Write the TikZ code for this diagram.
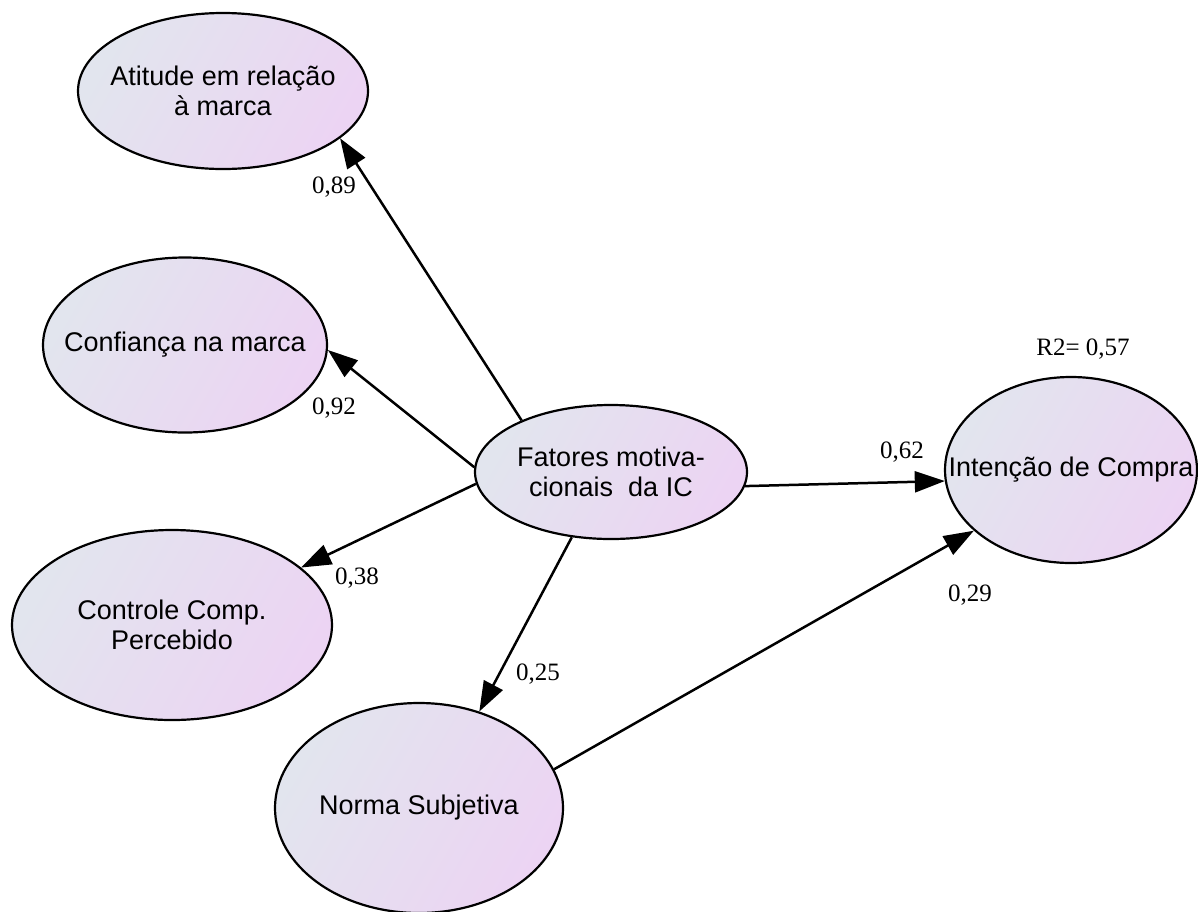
\documentclass[tikz,border=0pt]{standalone}
\usepackage{fontspec}
\setmainfont{Liberation Serif}
\newfontfamily\arialf{Liberation Sans}
\usetikzlibrary{shapes.geometric,arrows.meta}
\definecolor{gleft}{RGB}{226,229,238}
\definecolor{gright}{RGB}{236,212,243}
\tikzset{
  lat/.style={ellipse, draw=black, line width=2.2pt, inner sep=0pt,
    left color=gleft, right color=gright, shading angle=60},
  lattext/.style={font=\arialf\fontsize{27}{30}\selectfont, align=center, inner sep=0pt},
  path/.style={draw=black, line width=2.5pt, -{Triangle[length=30pt,width=21pt]}},
  coef/.style={font=\fontsize{25}{28}\selectfont, inner sep=0pt}
}
\begin{document}
\begin{tikzpicture}[x=1pt,y=-1pt]
\useasboundingbox (0,0) rectangle (1198,911);
\node[lat, minimum width=290, minimum height=156, label={[lattext]center:Atitude em relação\\à marca}] (att) at (223,91) {};
\node[lat, minimum width=284, minimum height=175, label={[lattext]center:Confiança na marca}] (con) at (185,345) {};
\node[lat, minimum width=320, minimum height=190, label={[lattext]center:Controle Comp.\\Percebido}] (ctl) at (172,625) {};
\node[lat, minimum width=288, minimum height=210, label={[lattext]center:Norma Subjetiva}] (nor) at (419,808) {};
\node[lat, minimum width=272, minimum height=134, label={[lattext]center:Fatores motiva-\\cionais\ \ da IC}] (fat) at (611,472) {};
\node[lat, minimum width=252, minimum height=186, label={[lattext]center:Intenção de Compra}] (int) at (1071,470) {};

\draw[path] (fat.150.6) -- (att.-22.2);
\draw[path] (fat.178) -- (con.-2.2);
\draw[path] (fat.-175) -- (ctl.24.3);
\draw[path] (fat.-121.1) -- (nor.58.9);
\draw[path] (fat.-6.4) -- (int.-175.4);
\draw[path] (nor.16.4) -- (int.-148.5);

\node[coef] (l1) at (334,187) {0,89};
\node[coef] (l2) at (334,408) {0,92};
\node[coef] (l3) at (357,578) {0,38};
\node[coef] (l4) at (538,674) {0,25};
\node[coef] (l5) at (902,452) {0,62};
\node[coef] (l6) at (970,595) {0,29};
\node[coef] (l7) at (1083,349) {R2= 0,57};
\end{tikzpicture}
\end{document}
